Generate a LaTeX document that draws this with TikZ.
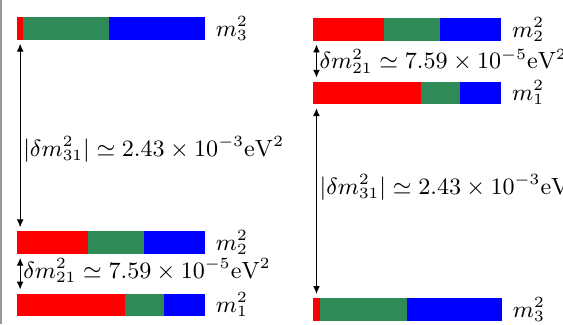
\documentclass[tikz,border=0pt]{standalone}
\usepackage{amsmath,amssymb}
\usepackage{tikz}
\usetikzlibrary{arrows.meta, positioning}
\definecolor{nugreen}{RGB}{46,139,87}

\begin{document}
\begin{tikzpicture}[
        node distance=0cm,
        every node/.style={font=\small},
        seg/.style={rectangle, inner sep=0pt, minimum height=0.29cm, fill=#1, draw=#1, line width=0.3pt},
        mlab/.style={right=0.11cm, inner sep=1pt},
        arr/.style={<->, >={Latex[length=3pt,width=2.6pt]}, shorten >=1.6pt, shorten <=1.6pt},
        dlab/.style={right, inner sep=1pt}
    ]
        \useasboundingbox (0,0) rectangle (7.6,4.374);
        \draw[gray!80, line width=1.2pt] (0.01,0) -- (0.01,4.374);

        % normal ordering
        \node[seg=red,     minimum width=0.07cm, anchor=west] (l3r) at (0.23,3.99) {};
        \node[seg=nugreen, minimum width=1.15cm, right=of l3r] (l3g) {};
        \node[seg=blue,    minimum width=1.28cm, right=of l3g] (l3b) {};
        \node[mlab] (l3m) at (l3b.east) {$m_3^2$};

        \node[seg=red,     minimum width=0.945cm, anchor=west] (l2r) at (0.23,1.10) {};
        \node[seg=nugreen, minimum width=0.745cm, right=of l2r] (l2g) {};
        \node[seg=blue,    minimum width=0.81cm,  right=of l2g] (l2b) {};
        \node[mlab] (l2m) at (l2b.east) {$m_2^2$};

        \node[seg=red,     minimum width=1.445cm, anchor=west] (l1r) at (0.23,0.26) {};
        \node[seg=nugreen, minimum width=0.515cm, right=of l1r] (l1g) {};
        \node[seg=blue,    minimum width=0.54cm,  right=of l1g] (l1b) {};
        \node[mlab] (l1m) at (l1b.east) {$m_1^2$};

        \draw[arr] ([xshift=1.2pt]l3r.south west) -- ([xshift=1.2pt]l2r.north west)
            node[dlab, pos=0.57] (l31) {$|\delta m^2_{31}| \simeq 2.43\times 10^{-3}\mathrm{eV}^2$};
        \draw[arr] ([xshift=1.2pt]l2r.south west) -- ([xshift=1.2pt]l1r.north west)
            node[dlab, pos=0.42] (l21) {$\delta m^2_{21} \simeq 7.59\times 10^{-5}\mathrm{eV}^2$};

        % inverted ordering
        \node[seg=red,     minimum width=0.945cm, anchor=west] (r2r) at (4.23,3.98) {};
        \node[seg=nugreen, minimum width=0.745cm, right=of r2r] (r2g) {};
        \node[seg=blue,    minimum width=0.81cm,  right=of r2g] (r2b) {};
        \node[mlab] (r2m) at (r2b.east) {$m_2^2$};

        \node[seg=red,     minimum width=1.445cm, anchor=west] (r1r) at (4.23,3.12) {};
        \node[seg=nugreen, minimum width=0.515cm, right=of r1r] (r1g) {};
        \node[seg=blue,    minimum width=0.54cm,  right=of r1g] (r1b) {};
        \node[mlab] (r1m) at (r1b.east) {$m_1^2$};

        \node[seg=red,     minimum width=0.08cm, anchor=west] (r3r) at (4.23,0.20) {};
        \node[seg=nugreen, minimum width=1.16cm, right=of r3r] (r3g) {};
        \node[seg=blue,    minimum width=1.27cm, right=of r3g] (r3b) {};
        \node[mlab] (r3m) at (r3b.east) {$m_3^2$};

        \draw[arr] ([xshift=1.2pt]r2r.south west) -- ([xshift=1.2pt]r1r.north west)
            node[dlab, pos=0.5] (r21) {$\delta m^2_{21} \simeq 7.59\times 10^{-5}\mathrm{eV}^2$};
        \draw[arr] ([xshift=1.2pt]r1r.south west) -- ([xshift=1.2pt]r3r.north west)
            node[dlab, pos=0.43] (r31) {$|\delta m^2_{31}| \simeq 2.43\times 10^{-3}\mathrm{eV}^2$};
    \end{tikzpicture}
\end{document}
